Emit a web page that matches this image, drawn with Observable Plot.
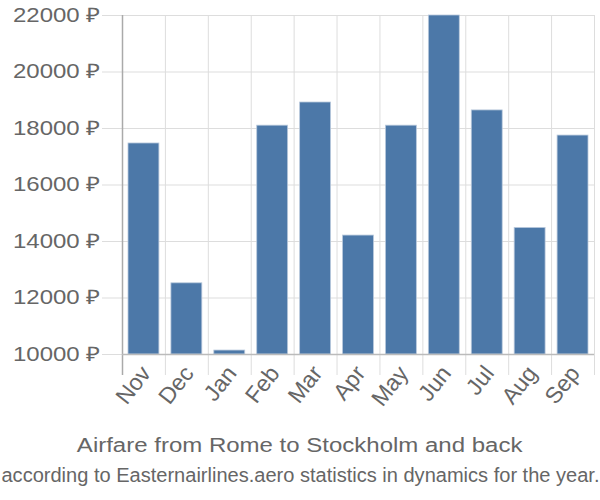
<!DOCTYPE html>
<html>
<head>
<meta charset="utf-8">
<script src="https://cdn.jsdelivr.net/npm/d3@7"></script>
<script src="https://cdn.jsdelivr.net/npm/@observablehq/plot@0.6"></script>
<style>
  body { margin: 0; background: #fff; font-family: "Liberation Sans", Arial, sans-serif; }
  #wrap { width: 600px; position: relative; height: 500px; }
  #wrap svg { position: absolute; left: 0; top: 0; }
  .title, .subtitle { position: absolute; left: 0; width: 600px; text-align: center; color: #666; white-space: nowrap; }
  .title { top: 433px; font-size: 20px; line-height: 24px; }
  .subtitle { top: 463px; font-size: 20px; line-height: 24px; }
  .title span, .subtitle span { display: inline-block; transform-origin: 50% 50%; }
</style>
</head>
<body>
<div id="wrap"></div>
<script>
const months = ["Nov","Dec","Jan","Feb","Mar","Apr","May","Jun","Jul","Aug","Sep"];
const prices = [17470, 12520, 10140, 18100, 18920, 14210, 18100, 22000, 18640, 14480, 17750];
const yTicks = [10000, 12000, 14000, 16000, 18000, 20000, 22000];
const titleText = "Airfare from Rome to Stockholm and back";
const subtitleText = "according to Easternairlines.aero statistics in dynamics for the year.";

const data = months.map((m, i) => ({month: m, price: prices[i]}));
const W = 600, H = 420, mL = 122, mR = 6, mT = 15, mB = 66;
const band = (W - mL - mR) / months.length;
const stretch = 1.2;

const chart = Plot.plot({
  width: W, height: H,
  marginLeft: mL, marginRight: mR, marginTop: mT, marginBottom: mB,
  style: {fontFamily: "Liberation Sans, Arial, sans-serif", color: "#666", background: "#fff"},
  x: {domain: months, padding: 0, round: false, label: null, axis: null},
  y: {domain: [10000, 22000], label: null},
  marks: [
    Plot.ruleY(yTicks, {stroke: "#ddd", strokeWidth: 1, insetLeft: -20}),
    Plot.ruleX(months, {x: d => d, dx: -band / 2, stroke: "#ddd", strokeWidth: 1, insetBottom: -21}),
    Plot.ruleX([months[months.length - 1]], {x: d => d, dx: band / 2, stroke: "#ddd", strokeWidth: 1, insetBottom: -21}),
    Plot.barY(data, {x: "month", y1: 10000, y2: "price", fill: "#4c78a8", stroke: "#b9c9dc", strokeWidth: 0.8, insetLeft: 6, insetRight: 6}),
    Plot.ruleX([months[0]], {x: d => d, dx: -band / 2, stroke: "#aaa", strokeWidth: 1.5, insetBottom: -21}),
    Plot.ruleY([10000], {stroke: "#bbb", strokeWidth: 1.5}),
    Plot.axisY({ticks: yTicks, tickFormat: d => d + " \u20BD", tickSize: 0, tickPadding: 22, fontSize: 20, fill: "#666", label: null}),
    Plot.text(months, {x: d => d, frameAnchor: "bottom", text: d => d, rotate: -52, textAnchor: "end", lineAnchor: "top",
      dx: -5, dy: 9, fontSize: 23, fill: "#666"})
  ]
});

// widen y-axis label glyphs horizontally, like the reference
chart.querySelectorAll('g[aria-label="y-axis tick label"] text').forEach(t => {
  let tr = t.getAttribute("transform");
  if (tr && tr.startsWith("translate(")) {
    const k = tr.indexOf(")") + 1;
    t.setAttribute("transform", tr.slice(0, k) + ` scale(${stretch},1)` + tr.slice(k));
  } else {
    const x = +(t.getAttribute("x") || 0), y = +(t.getAttribute("y") || 0);
    t.setAttribute("x", 0); t.setAttribute("y", 0);
    t.setAttribute("transform", `translate(${x},${y}) scale(${stretch},1)` + (tr ? " " + tr : ""));
  }
});

const wrap = document.getElementById("wrap");
wrap.appendChild(chart);
function addText(cls, txt, fit) {
  const d = document.createElement("div"); d.className = cls;
  const sp = document.createElement("span"); sp.textContent = txt;
  d.appendChild(sp); wrap.appendChild(d);
  const w = sp.getBoundingClientRect().width;
  const sx = fit ? fit / w : stretch;
  sp.style.transform = `scaleX(${sx})`;
}
addText("title", titleText, 0);
addText("subtitle", subtitleText, 598);
</script>
</body>
</html>
